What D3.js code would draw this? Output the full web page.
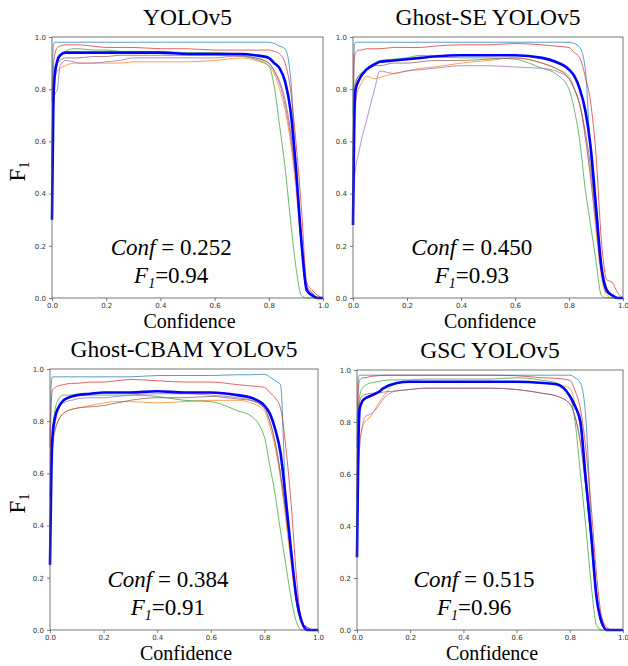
<!DOCTYPE html>
<html><head><meta charset="utf-8">
<script src="https://cdn.jsdelivr.net/npm/d3@7"></script>
<style>body{margin:0;background:#fff} svg{display:block}</style>
</head><body>
<svg id="chart" width="628" height="666"></svg>
<script>
// ---------- DATA ----------
const confidence = [0,0.005,0.01,0.02,0.03,0.05,0.08,0.1,0.15,0.2,0.25,0.3,0.4,0.5,0.6,0.7,0.75,0.8,0.82,0.84,0.86,0.88,0.9,0.92,0.94,0.96,0.98,1.0];
const titles = ["YOLOv5","Ghost-SE YOLOv5","Ghost-CBAM YOLOv5","GSC YOLOv5"];
const confValues = ["0.252","0.450","0.384","0.515"];
const f1Values = ["0.94","0.93","0.91","0.96"];
const tickValues = [0,0.2,0.4,0.6,0.8,1.0];
const classColors = ["#1f77b4","#ff7f0e","#2ca02c","#d62728","#9467bd","#8c564b"];

// YOLOv5
const yolov5_c0 = [0.75,0.97,0.98,0.98,0.98,0.98,0.98,0.98,0.98,0.98,0.98,0.98,0.98,0.98,0.98,0.98,0.98,0.98,0.975,0.965,0.955,0.85,0.5,0.2,0.03,0.01,0,0];
const yolov5_c1 = [0.3,0.7,0.85,0.87,0.88,0.89,0.9,0.9,0.9,0.9,0.9,0.905,0.905,0.905,0.91,0.92,0.91,0.89,0.86,0.8,0.72,0.6,0.42,0.2,0.03,0.01,0,0];
const yolov5_c2 = [0.3,0.7,0.85,0.9,0.93,0.945,0.955,0.955,0.95,0.95,0.945,0.945,0.945,0.94,0.94,0.93,0.915,0.89,0.81,0.66,0.5,0.3,0.12,0.01,0,0,0,0];
const yolov5_c3 = [0.5,0.88,0.93,0.96,0.965,0.97,0.97,0.97,0.965,0.96,0.96,0.96,0.955,0.955,0.95,0.95,0.95,0.95,0.945,0.935,0.9,0.8,0.6,0.35,0.06,0.03,0.01,0];
const yolov5_c4 = [0.3,0.7,0.78,0.8,0.89,0.91,0.905,0.9,0.9,0.905,0.91,0.92,0.92,0.92,0.92,0.93,0.92,0.9,0.87,0.82,0.74,0.62,0.45,0.22,0.04,0.02,0,0];
const yolov5_c5 = [0.3,0.75,0.88,0.9,0.91,0.92,0.92,0.92,0.925,0.925,0.93,0.93,0.93,0.93,0.93,0.925,0.92,0.9,0.87,0.83,0.76,0.64,0.46,0.24,0.05,0.02,0,0];
const yolov5_all = [0.3,0.75,0.85,0.91,0.93,0.94,0.94,0.94,0.94,0.94,0.94,0.94,0.94,0.935,0.935,0.935,0.93,0.92,0.9,0.88,0.83,0.72,0.5,0.22,0.03,0.01,0,0];

// Ghost-SE YOLOv5
const ghostse_c0 = [0.7,0.97,0.98,0.98,0.98,0.98,0.98,0.98,0.98,0.98,0.98,0.98,0.98,0.98,0.98,0.98,0.98,0.98,0.975,0.96,0.88,0.55,0.3,0.1,0.02,0.01,0,0];
const ghostse_c1 = [0.3,0.6,0.75,0.8,0.82,0.85,0.84,0.845,0.86,0.87,0.88,0.885,0.9,0.91,0.92,0.9,0.88,0.85,0.8,0.74,0.62,0.46,0.26,0.08,0.01,0,0,0];
const ghostse_c2 = [0.3,0.8,0.83,0.85,0.86,0.88,0.9,0.91,0.915,0.92,0.93,0.925,0.92,0.92,0.915,0.88,0.86,0.8,0.72,0.6,0.42,0.28,0.14,0.01,0,0,0,0];
const ghostse_c3 = [0.5,0.92,0.94,0.95,0.95,0.955,0.955,0.955,0.96,0.96,0.96,0.965,0.97,0.97,0.975,0.97,0.965,0.96,0.94,0.92,0.85,0.75,0.55,0.22,0.07,0.06,0.02,0];
const ghostse_c4 = [0.3,0.45,0.5,0.55,0.6,0.68,0.8,0.87,0.86,0.87,0.875,0.88,0.89,0.89,0.885,0.88,0.87,0.84,0.8,0.74,0.62,0.46,0.28,0.1,0.02,0.01,0,0];
const ghostse_c5 = [0.3,0.75,0.82,0.85,0.86,0.88,0.89,0.89,0.9,0.9,0.905,0.91,0.91,0.915,0.92,0.9,0.88,0.84,0.8,0.74,0.64,0.5,0.3,0.1,0.02,0.01,0,0];
const ghostse_all = [0.28,0.7,0.8,0.83,0.85,0.875,0.895,0.905,0.91,0.915,0.92,0.925,0.93,0.93,0.93,0.92,0.905,0.875,0.85,0.8,0.72,0.58,0.35,0.12,0.03,0.01,0,0];

// Ghost-CBAM YOLOv5
const ghostcbam_c0 = [0.7,0.95,0.97,0.97,0.97,0.97,0.97,0.97,0.97,0.97,0.97,0.97,0.975,0.975,0.975,0.978,0.978,0.98,0.97,0.955,0.94,0.5,0.28,0.1,0.03,0.01,0,0];
const ghostcbam_c1 = [0.25,0.6,0.72,0.77,0.8,0.83,0.845,0.85,0.86,0.87,0.875,0.875,0.87,0.875,0.88,0.88,0.87,0.84,0.78,0.7,0.58,0.42,0.25,0.1,0.02,0,0,0];
const ghostcbam_c2 = [0.25,0.6,0.75,0.85,0.88,0.9,0.9,0.9,0.9,0.9,0.9,0.9,0.895,0.88,0.875,0.84,0.82,0.74,0.63,0.52,0.38,0.25,0.12,0.03,0,0,0,0];
const ghostcbam_c3 = [0.5,0.88,0.92,0.93,0.935,0.94,0.945,0.945,0.95,0.95,0.955,0.96,0.955,0.95,0.95,0.94,0.935,0.93,0.91,0.89,0.85,0.7,0.48,0.2,0.03,0.01,0,0];
const ghostcbam_c4 = [0.25,0.6,0.72,0.8,0.84,0.87,0.88,0.885,0.89,0.89,0.895,0.9,0.905,0.905,0.9,0.89,0.88,0.85,0.8,0.72,0.6,0.45,0.28,0.12,0.03,0.01,0,0];
const ghostcbam_c5 = [0.25,0.6,0.7,0.77,0.8,0.83,0.845,0.85,0.855,0.86,0.87,0.88,0.89,0.89,0.895,0.885,0.88,0.85,0.8,0.72,0.6,0.45,0.28,0.12,0.03,0.01,0,0];
const ghostcbam_all = [0.25,0.6,0.75,0.82,0.85,0.88,0.895,0.9,0.905,0.91,0.91,0.91,0.915,0.91,0.91,0.9,0.89,0.86,0.83,0.77,0.68,0.5,0.3,0.12,0.03,0,0,0];

// GSC YOLOv5
const gsc_c0 = [0.7,0.97,0.98,0.98,0.98,0.98,0.98,0.98,0.98,0.98,0.98,0.98,0.98,0.98,0.98,0.98,0.98,0.98,0.97,0.95,0.82,0.42,0.15,0.02,0,0,0,0];
const gsc_c1 = [0.3,0.65,0.72,0.78,0.8,0.82,0.87,0.9,0.95,0.955,0.955,0.955,0.955,0.955,0.955,0.95,0.945,0.93,0.87,0.78,0.6,0.4,0.15,0.03,0,0,0,0];
const gsc_c2 = [0.3,0.85,0.9,0.93,0.94,0.95,0.955,0.96,0.962,0.962,0.965,0.965,0.965,0.965,0.97,0.96,0.95,0.9,0.8,0.6,0.4,0.18,0.02,0,0,0,0,0];
const gsc_c3 = [0.5,0.93,0.96,0.97,0.97,0.975,0.978,0.98,0.98,0.98,0.98,0.98,0.98,0.98,0.978,0.97,0.968,0.96,0.92,0.85,0.7,0.48,0.22,0.05,0.01,0,0,0];
const gsc_c4 = [0.3,0.6,0.7,0.78,0.82,0.83,0.86,0.89,0.92,0.925,0.93,0.93,0.93,0.93,0.925,0.91,0.9,0.87,0.82,0.72,0.55,0.35,0.13,0.02,0,0,0,0];
const gsc_c5 = [0.3,0.8,0.88,0.9,0.905,0.91,0.912,0.915,0.92,0.925,0.93,0.93,0.93,0.93,0.925,0.91,0.9,0.87,0.82,0.72,0.55,0.35,0.13,0.02,0,0,0,0];
const gsc_all = [0.28,0.7,0.85,0.88,0.89,0.9,0.915,0.93,0.95,0.955,0.955,0.955,0.955,0.955,0.955,0.95,0.945,0.9,0.86,0.8,0.58,0.37,0.13,0.03,0,0,0,0];

const panelClasses = [
  [yolov5_c0,yolov5_c1,yolov5_c2,yolov5_c3,yolov5_c4,yolov5_c5],
  [ghostse_c0,ghostse_c1,ghostse_c2,ghostse_c3,ghostse_c4,ghostse_c5],
  [ghostcbam_c0,ghostcbam_c1,ghostcbam_c2,ghostcbam_c3,ghostcbam_c4,ghostcbam_c5],
  [gsc_c0,gsc_c1,gsc_c2,gsc_c3,gsc_c4,gsc_c5]
];
const panelAll = [yolov5_all, ghostse_all, ghostcbam_all, gsc_all];

// ---------- LAYOUT ----------
const layout = [
  {x:52, y:37, w:271, h:261},
  {x:353, y:37, w:270, h:261},
  {x:50, y:369, w:268, h:261},
  {x:357, y:370, w:266, h:260}
];
const SERIF = "Liberation Serif";
const svg = d3.select("#chart");

layout.forEach((L, i) => {
  const g = svg.append("g").attr("transform", `translate(${L.x},${L.y})`);
  const x = d3.scaleLinear().domain([0,1]).range([0,L.w]);
  const y = d3.scaleLinear().domain([0,1]).range([L.h,0]);

  const line = d3.line().x((d,k) => x(confidence[k])).y(d => y(d)).curve(d3.curveMonotoneX);

  g.selectAll("path.cls").data(panelClasses[i]).join("path")
    .attr("class","cls")
    .attr("d", d => line(d))
    .attr("fill","none")
    .attr("stroke",(d,k) => classColors[k])
    .attr("stroke-opacity",0.8)
    .attr("stroke-width",0.9);

  g.append("path").attr("d", line(panelAll[i]))
    .attr("fill","none").attr("stroke","#0000ff").attr("stroke-width",2.6)
    .attr("stroke-linejoin","round");

  const xa = g.append("g").attr("transform",`translate(0,${L.h})`)
    .call(d3.axisBottom(x).tickValues(tickValues).tickFormat(d3.format(".1f")).tickSize(3).tickSizeOuter(0));
  const ya = g.append("g")
    .call(d3.axisLeft(y).tickValues(tickValues).tickFormat(d3.format(".1f")).tickSize(3).tickSizeOuter(0));
  [xa, ya].forEach(a => {
    a.select(".domain").remove();
    a.selectAll("line").attr("stroke","#444").attr("stroke-width",0.7);
    a.selectAll("text").attr("font-family","DejaVu Sans").attr("font-size",7).attr("fill","#333");
  });
  xa.selectAll("text").attr("dy","0.5em");

  g.append("rect").attr("width",L.w).attr("height",L.h)
    .attr("fill","none").attr("stroke","#555").attr("stroke-width",0.8);

  g.append("text").attr("x",L.w/2).attr("y",-12)
    .attr("text-anchor","middle").attr("font-family",SERIF).attr("font-size",23.5).attr("fill","#000")
    .text(titles[i]);
  g.append("text").attr("x",L.w/2 + 2).attr("y",L.h + 30)
    .attr("text-anchor","middle").attr("font-family",SERIF).attr("font-size",20).attr("fill","#000")
    .text("Confidence");
  if (i % 2 === 0) {
    const yl = g.append("text")
      .attr("transform",`translate(${25 - L.x},${L.h/2 + 4}) rotate(-90)`)
      .attr("text-anchor","middle").attr("font-family",SERIF).attr("font-size",23).attr("fill","#000");
    yl.append("tspan").attr("font-family",SERIF).text("F");
    yl.append("tspan").attr("font-family",SERIF).attr("font-size",14).attr("dy",4).text("1");
  }
  const a1 = g.append("text").attr("x",x(0.44)).attr("y",y(0.165))
    .attr("text-anchor","middle").attr("font-family",SERIF).attr("font-size",23).attr("fill","#000");
  a1.append("tspan").attr("font-family",SERIF).attr("font-style","italic").text("Conf");
  a1.append("tspan").attr("font-family",SERIF).text(" = " + confValues[i]);
  const a2 = g.append("text").attr("x",x(0.44)).attr("y",y(0.057))
    .attr("text-anchor","middle").attr("font-family",SERIF).attr("font-size",23).attr("fill","#000");
  a2.append("tspan").attr("font-family",SERIF).attr("font-style","italic").text("F");
  a2.append("tspan").attr("font-family",SERIF).attr("font-style","italic").attr("font-size",14).attr("dy",5).text("1");
  a2.append("tspan").attr("font-family",SERIF).attr("dy",-5).text("=" + f1Values[i]);
});
</script>
</body></html>
